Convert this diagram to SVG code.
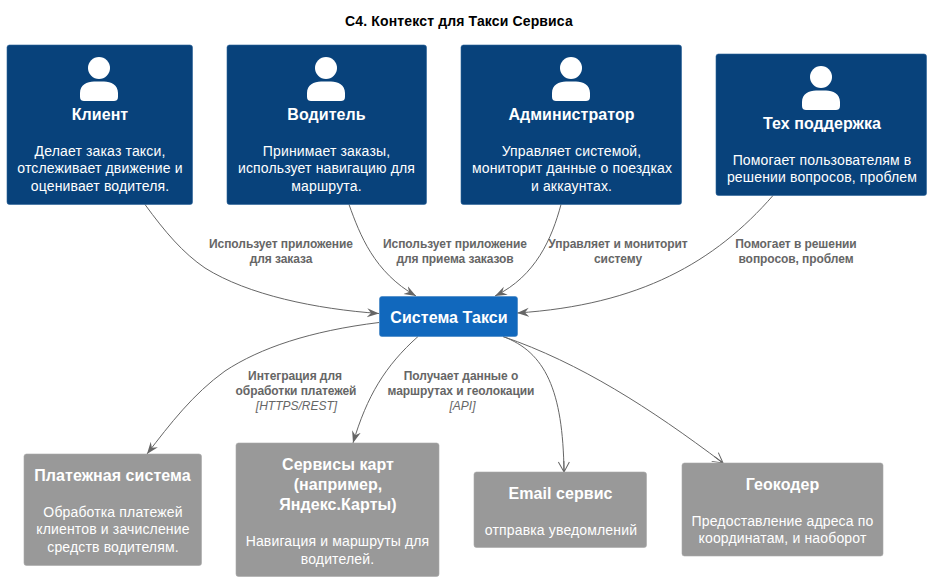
<svg xmlns="http://www.w3.org/2000/svg" width="931" height="581" viewBox="0 0 931 581">
<style>
text{font-family:"Liberation Sans",Arial,sans-serif;text-anchor:middle}
.title{font-size:14px;font-weight:bold;fill:#000;letter-spacing:.14px}
.n{font-size:16px;font-weight:bold;fill:#fff;letter-spacing:.06px}
.d{font-size:14px;fill:#fff;letter-spacing:.15px}
.l{font-size:12px;font-weight:bold;fill:#666;letter-spacing:-.07px}
.t{font-size:12px;font-style:italic;fill:#666}
.p{fill:#08427B;stroke:#2A6199;stroke-width:.6}
.s{fill:#1168BD;stroke:#3C7FC0;stroke-width:.6}
.e{fill:#999;stroke:#AAAAAA;stroke-width:.6}
.c{fill:none;stroke:#666;stroke-width:1}
.i{fill:#fff}
</style>
<defs>
<marker id="a" markerUnits="userSpaceOnUse" markerWidth="14" markerHeight="14" refX="12" refY="6" orient="auto"><path d="M0 1.500L12 6L0 10.500L4 6Z" fill="#666"/></marker>
<marker id="o" markerUnits="userSpaceOnUse" markerWidth="14" markerHeight="14" refX="11" refY="6" orient="auto"><path d="M1 .5L11 6L1 11.500M11 6H0" fill="none" stroke="#666" stroke-width="1"/></marker>
<g id="person"><circle cx="0" cy="11" r="11" class="i"/><path class="i" d="M-19 44V36C-19 28 -12 24.500 -5 24.500C-2 24.500 2 24.500 5 24.500C12 24.500 19 28 19 36V40C19 43 17 44 15 44H-15C-17 44 -19 43 -19 40Z"/></g>
</defs>
<text class="title" x="459" y="25.500">С4. Контекст для Такси Сервиса</text>
<g id="connectors">
<path class="c" marker-end="url(#a)" d="M145 204.500C165 232 183 253 205 268C248 295 316 309 379 313.500"/>
<path class="c" marker-end="url(#a)" d="M349 204.500C360 235 374 272 416 296"/>
<path class="c" marker-end="url(#a)" d="M561 204.500C552 238 536 276 495 296"/>
<path class="c" marker-end="url(#a)" d="M773 195.500C715 262 640 305 517 313"/>
<path class="c" marker-end="url(#a)" d="M379 322.500C310 331 260 348 225 371C193 394 170 424 147 454"/>
<path class="c" marker-end="url(#a)" d="M418 336.500C385 366 367 396 353 443"/>
<path class="c" marker-end="url(#o)" d="M503 336.500C545 352 563 390 564 472"/>
<path class="c" marker-end="url(#o)" d="M503 336.500C580 363 650 408 723 463"/>
<text class="l" x="281" y="248">Использует приложение</text><text class="l" x="281" y="263">для заказа</text>
<text class="l" x="455" y="248">Использует приложение</text><text class="l" x="455" y="263">для приема заказов</text>
<text class="l" x="618" y="248">Управляет и мониторит</text><text class="l" x="618" y="263">систему</text>
<text class="l" x="796" y="248">Помогает в решении</text><text class="l" x="796" y="263">вопросов, проблем</text>
<text class="l" x="295" y="380">Интеграция для</text><text class="l" x="296" y="395">обработки платежей</text><text class="t" x="296.500" y="410">[HTTPS/REST]</text>
<text class="l" x="461" y="380">Получает данные о</text><text class="l" x="461" y="395">маршрутах и геолокации</text><text class="t" x="462.500" y="410">[API]</text>
</g>
<g id="client"><rect class="p" x="7" y="45" width="185.500" height="159.500" rx="2.500"/><use href="#person" x="99" y="57"/><text class="n" x="100" y="119.500">Клиент</text><text class="d" x="100" y="156">Делает заказ такси,</text><text class="d" x="100" y="173">отслеживает движение и</text><text class="d" x="100" y="191">оценивает водителя.</text></g>
<g id="driver"><rect class="p" x="227" y="45" width="199.500" height="159.500" rx="2.500"/><use href="#person" x="326" y="57"/><text class="n" x="326.500" y="119.500">Водитель</text><text class="d" x="326.500" y="156">Принимает заказы,</text><text class="d" x="326.500" y="173">использует навигацию для</text><text class="d" x="326.500" y="191">маршрута.</text></g>
<g id="admin"><rect class="p" x="461" y="45" width="220.500" height="159.500" rx="2.500"/><use href="#person" x="571" y="57"/><text class="n" x="571.500" y="119.500">Администратор</text><text class="d" x="571.500" y="156">Управляет системой,</text><text class="d" x="572" y="173">мониторит данные о поездках</text><text class="d" x="571.500" y="191">и аккаунтах.</text></g>
<g id="support"><rect class="p" x="716" y="54" width="210.500" height="141.500" rx="2.500"/><use href="#person" x="821" y="66"/><text class="n" x="822" y="129">Тех поддержка</text><text class="d" x="822" y="165">Помогает пользователям в</text><text class="d" x="822" y="182">решении вопросов, проблем</text></g>
<g id="system"><rect class="s" x="379.500" y="296.500" width="138" height="40" rx="2.500"/><text class="n" x="449" y="323">Система Такси</text></g>
<g id="payment"><rect class="e" x="24" y="454" width="177.500" height="111.500" rx="2.500"/><text class="n" x="112.500" y="481">Платежная система</text><text class="d" x="113" y="517">Обработка платежей</text><text class="d" x="113" y="534">клиентов и зачисление</text><text class="d" x="113" y="552">средств водителям.</text></g>
<g id="maps"><rect class="e" x="236" y="443" width="203" height="133.500" rx="2.500"/><text class="n" x="338" y="470">Сервисы карт</text><text class="n" x="338" y="490">(например,</text><text class="n" x="338" y="510">Яндекс.Карты)</text><text class="d" x="337.500" y="546">Навигация и маршруты для</text><text class="d" x="337.500" y="564">водителей.</text></g>
<g id="email"><rect class="e" x="474" y="472" width="172.500" height="75.500" rx="2.500"/><text class="n" x="560.500" y="499">Email сервис</text><text class="d" x="561" y="535">отправка уведомлений</text></g>
<g id="geocoder"><rect class="e" x="682" y="463" width="201" height="93" rx="2.500"/><text class="n" x="782.500" y="490">Геокодер</text><text class="d" x="782.500" y="526">Предоставление адреса по</text><text class="d" x="782.500" y="543">координатам, и наоборот</text></g>
</svg>
